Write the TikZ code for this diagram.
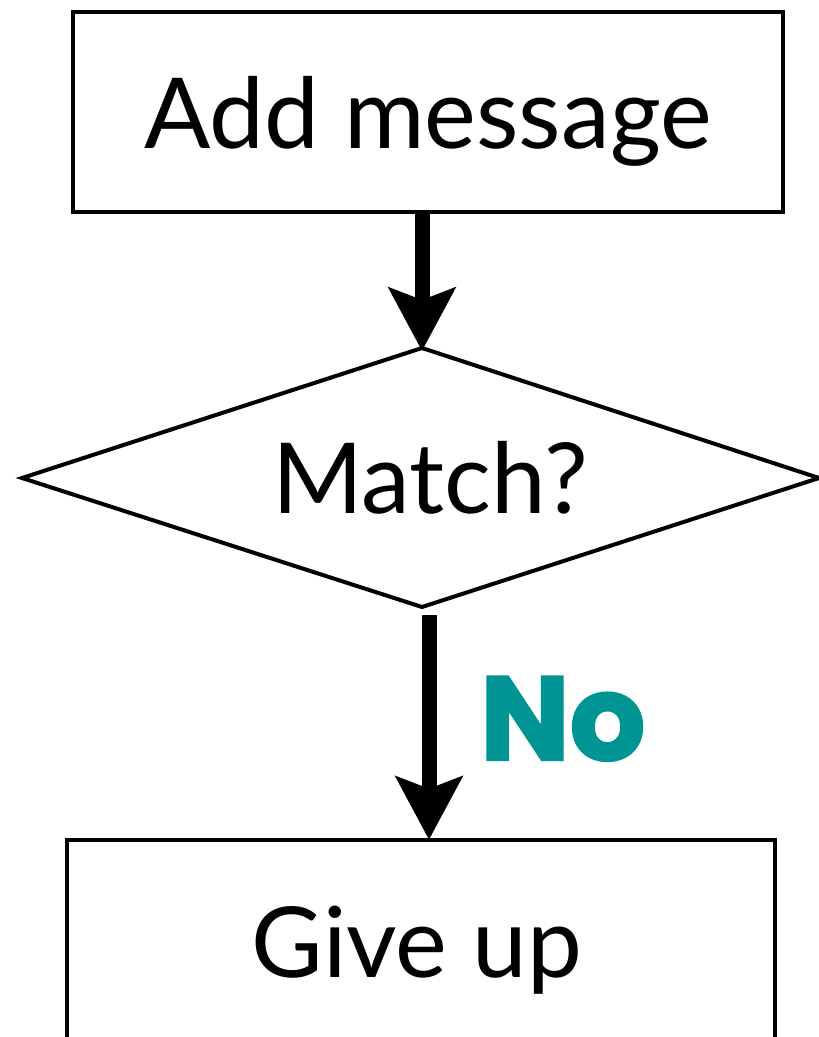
\documentclass[tikz,border=0pt]{standalone}
\usepackage{fontspec}
\setmainfont{Lato}
\newfontfamily\nofont{Poppins}[BoldFeatures={FakeBold=2}]
\usetikzlibrary{arrows.meta}
\definecolor{tealno}{RGB}{0,148,148}
\tikzset{
  box/.style={draw, line width=4.5pt, rectangle, inner sep=0pt,
    font=\fontsize{98}{110}\selectfont, text depth=0pt},
  txt/.style={inner sep=0pt, font=\fontsize{98}{110}\selectfont},
  decision/.style={draw, line width=4pt, line join=miter},
  arr/.style={line width=15pt, -{Stealth[length=63pt,width=66pt,inset=12pt]}},
  lbl/.style={text=tealno, font=\nofont\bfseries\fontsize{119}{120}\selectfont, inner sep=0pt}
}
\begin{document}
\begin{tikzpicture}[x=1pt,y=-1pt]
\clip (0,0) rectangle (819,1037);
\node[box, minimum width=710pt, minimum height=200pt, text height=72pt] (add) at (428,112) {Add message};
\coordinate (dtop) at (422,348);
\coordinate (dleft) at (22,478);
\coordinate (dright) at (819,478);
\coordinate (dbot) at (422,607);
\draw[decision] (dtop) -- (dright) -- (dbot) -- (dleft) -- cycle;
\node[txt, anchor=base] (match) at (430,513) {Match?};
\node[box, minimum width=708pt, minimum height=200pt, text height=74pt] (give) at (421,940) {\hspace{-8pt}Give up};
\draw[arr] ([xshift=-6pt]add.south) -- ([yshift=-3pt]dtop);
\draw[arr] ([xshift=7pt,yshift=-8pt]dbot) -- ([xshift=8pt,yshift=-2pt]give.north);
\node[lbl, anchor=base west] (no) at (480,760) {No};
\end{tikzpicture}
\end{document}
